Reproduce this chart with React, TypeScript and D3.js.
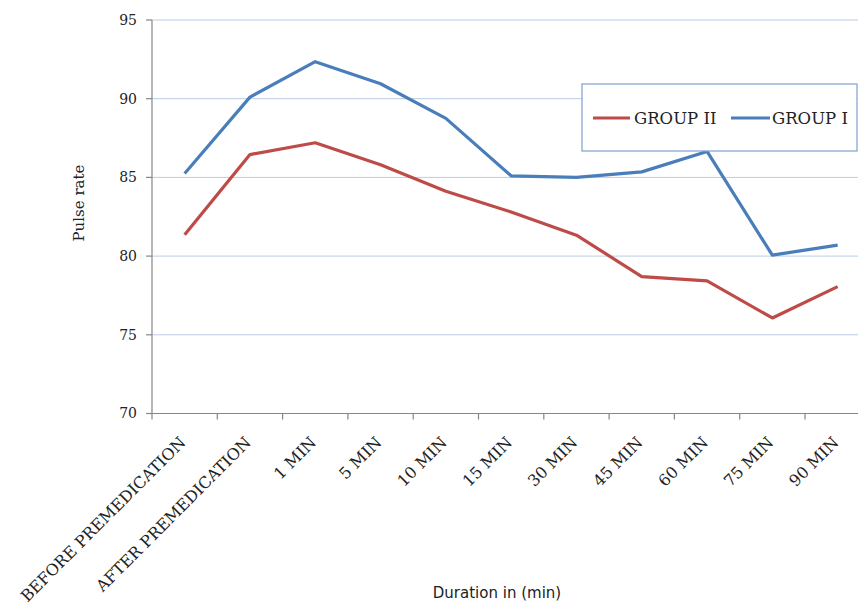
import React from 'react';
import * as d3 from 'd3';

// categories on the x axis
const categories = [
  'BEFORE PREMEDICATION',
  'AFTER PREMEDICATION',
  '1 MIN',
  '5 MIN',
  '10 MIN',
  '15 MIN',
  '30 MIN',
  '45 MIN',
  '60 MIN',
  '75 MIN',
  '90 MIN',
];

// pulse rate per group
const groupI = [85.25, 90.1, 92.35, 90.95, 88.75, 85.1, 85.0, 85.35, 86.65, 80.06, 80.7];
const groupII = [81.35, 86.45, 87.2, 85.8, 84.12, 82.8, 81.33, 78.7, 78.42, 76.07, 78.06];

const yTicks = [70, 75, 80, 85, 90, 95];

const series = [
  { name: 'GROUP II', values: groupII, color: '#be4b48' },
  { name: 'GROUP I', values: groupI, color: '#4a7ebb' },
];

const width = 858;
const height = 615;
const left = 152;
const bandW = 65.3;
const top = 20;
const bottom = 413.5;

const serif = '"DejaVu Serif", "Liberation Serif", serif';

const App = () => {
  const x = d3.scaleBand<string>()
    .domain(categories)
    .range([left, left + bandW * categories.length]);

  const y = d3.scaleLinear().domain([70, 95]).range([bottom, top]);

  const line = d3.line<number>()
    .x((_, i) => (x(categories[i]) as number) + x.bandwidth() / 2)
    .y(d => y(d));

  return (
    <svg
      width={width}
      height={height}
      style={{ position: 'absolute', left: 0, top: 0, background: '#fff' }}
    >
      {/* gridlines */}
      {yTicks.map(t => (
        <line key={'g' + t} x1={left} x2={width} y1={y(t)} y2={y(t)} stroke="#b9cde5" strokeWidth={1} />
      ))}

      {/* y axis */}
      <line x1={left} x2={left} y1={top} y2={bottom} stroke="#868686" strokeWidth={1.2} />
      {yTicks.map(t => (
        <g key={'y' + t}>
          <line x1={left - 6} x2={left} y1={y(t)} y2={y(t)} stroke="#868686" strokeWidth={1.2} />
          <text x={left - 15} y={y(t)} dy="0.35em" textAnchor="end" fontFamily={serif} fontSize={14} fill="#222">
            {t}
          </text>
        </g>
      ))}

      {/* x axis */}
      <line x1={left} x2={width} y1={bottom} y2={bottom} stroke="#868686" strokeWidth={1.2} />
      {categories.map((c, i) => (
        <line
          key={'xt' + i}
          x1={(x(c) as number)}
          x2={(x(c) as number)}
          y1={bottom}
          y2={bottom + 6}
          stroke="#868686"
          strokeWidth={1.2}
        />
      ))}
      {categories.map((c, i) => {
        const cx = (x(c) as number) + x.bandwidth() / 2 + 2;
        const cy = bottom + 30;
        return (
          <text
            key={'xl' + i}
            x={cx}
            y={cy}
            textAnchor="end"
            fontFamily={serif}
            fontSize={16}
            fill="#222"
            transform={`rotate(-45 ${cx} ${cy})`}
          >
            {c}
          </text>
        );
      })}

      {/* lines */}
      {series.map(s => (
        <path
          key={s.name}
          d={line(s.values) || ''}
          fill="none"
          stroke={s.color}
          strokeWidth={3.2}
          strokeLinejoin="round"
        />
      ))}

      {/* legend */}
      <rect x={582} y={84} width={275} height={67} fill="#fff" stroke="#7f9fcf" strokeWidth={1.2} />
      <line x1={593} x2={630} y1={118} y2={118} stroke="#be4b48" strokeWidth={3} />
      <text x={634} y={118} dy="0.35em" fontFamily={serif} fontSize={16.5} fill="#222">GROUP II</text>
      <line x1={731} x2={770} y1={118} y2={118} stroke="#4a7ebb" strokeWidth={3} />
      <text x={772} y={118} dy="0.35em" fontFamily={serif} fontSize={16.5} fill="#222">GROUP I</text>

      {/* axis titles */}
      <text
        x={84}
        y={203}
        textAnchor="middle"
        fontFamily={serif}
        fontSize={15}
        fill="#222"
        transform="rotate(-90 84 203)"
      >
        Pulse rate
      </text>
      <text x={497} y={598} textAnchor="middle" fontFamily='"DejaVu Sans", sans-serif' fontSize={15} fill="#222">
        Duration in (min)
      </text>
    </svg>
  );
};

export default App;
